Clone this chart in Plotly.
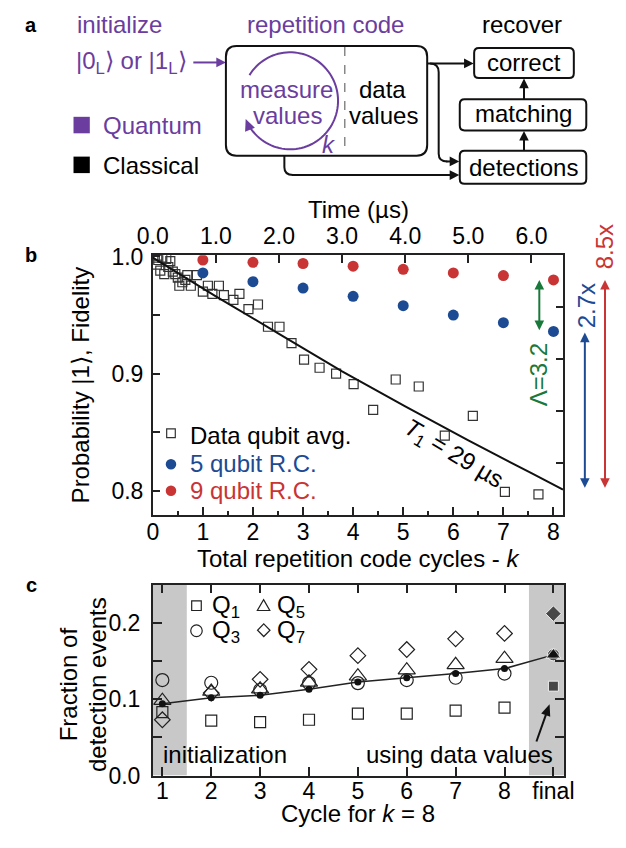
import numpy as np
import plotly.graph_objects as go

W, H = 626, 848
FONT = "Liberation Sans, Arial, Helvetica, sans-serif"
PURPLE = "#6a3d9e"
BLUE = "#1c4b94"
RED = "#c93434"
GREEN = "#19793a"
INK = "#111111"

# ---------------- Panel b data ----------------
dq_k = [0.04, 0.08, 0.11, 0.15, 0.19, 0.23, 0.27, 0.31, 0.35, 0.40, 0.45, 0.50, 0.53,
        0.59, 0.65, 0.69, 0.76, 0.88, 1.00, 1.10, 1.19, 1.32, 1.42, 1.61, 1.73, 1.91,
        2.10, 2.30, 2.53, 2.77, 3.02, 3.33, 3.66, 4.01, 4.40, 4.85, 5.31, 5.83, 6.39,
        7.03, 7.70]
dq_v = [0.999, 0.993, 0.997, 0.988, 0.999, 0.985, 0.998, 0.991, 0.996, 0.987, 0.985,
        0.982, 0.975, 0.978, 0.980, 0.984, 0.975, 0.984, 0.970, 0.975, 0.968, 0.975,
        0.967, 0.963, 0.968, 0.955, 0.959, 0.940, 0.940, 0.926, 0.912, 0.905, 0.900,
        0.891, 0.869, 0.895, 0.889, 0.847, 0.864, 0.799, 0.797]
rc_k = [1, 2, 3, 4, 5, 6, 7, 8]
rc5_v = [0.986, 0.9785, 0.973, 0.966, 0.958, 0.950, 0.9435, 0.936]
rc9_v = [0.997, 0.995, 0.994, 0.9917, 0.989, 0.986, 0.9837, 0.980]
t1_t = [0.0, 1.0, 2.0, 3.0, 4.0, 5.0, 6.0, 6.5]
t1_v = [0.999, 0.966, 0.934, 0.902, 0.872, 0.843, 0.815, 0.801]
k_ticks = [0, 1, 2, 3, 4, 5, 6, 7, 8]
t_ticks = [0, 1, 2, 3, 4, 5, 6]
t_labels = ["0.0", "1.0", "2.0", "3.0", "4.0", "5.0", "6.0"]
p_ticks = [0.8, 0.9, 1.0]
p_labels = ["0.8", "0.9", "1.0"]

# ---------------- Panel c data ----------------
cyc = [1, 2, 3, 4, 5, 6, 7, 8]
cyc_ticks = [1, 2, 3, 4, 5, 6, 7, 8, 9]
cyc_labels = ["1", "2", "3", "4", "5", "6", "7", "8", "final"]
q1 = [0.083, 0.072, 0.070, 0.073, 0.081, 0.081, 0.085, 0.089]
q3 = [0.125, 0.1215, 0.112, 0.121, 0.121, 0.125, 0.128, 0.1335]
q5 = [0.098, 0.110, 0.113, 0.122, 0.130, 0.138, 0.145, 0.153]
q7 = [0.073, 0.108, 0.126, 0.139, 0.157, 0.165, 0.179, 0.186]
avg_x = [1, 2, 3, 4, 5, 6, 7, 8, 9]
avg_v = [0.094, 0.1017, 0.105, 0.113, 0.1225, 0.128, 0.1335, 0.140, 0.158]
final_x = 9
final_q1, final_q3, final_q5, final_q7 = 0.117, 0.158, 0.158, 0.212
f_ticks = [0, 0.1, 0.2]
f_labels = ["0.0", "0.1", "0.2"]

# ---------------- geometry (pixels) ----------------
B_L, B_R, B_T, B_B = 142.7, 570.7, 250.7, 518.3
B_YR = [0.7793, 1.001]
C_L, C_R, C_T, C_B = 142.7, 571.7, 590.0, 786.7


def X(x):
    return x / W


def Y(y):
    return 1 - y / H


def yb(v):  # panel-b value -> pixel row
    return B_B - (v - B_YR[0]) / (B_YR[1] - B_YR[0]) * (B_B - B_T)


fig = go.Figure()

# ---- panel b traces ----
fig.add_trace(go.Scatter(x=dq_k, y=dq_v, mode="markers", name="Data qubit avg.",
                         marker=dict(symbol="square-open", size=9, color="#333",
                                     line=dict(width=1.2)), xaxis="x", yaxis="y"))
fig.add_trace(go.Scatter(x=rc_k, y=rc5_v, mode="markers", name="5 qubit R.C.",
                         marker=dict(symbol="circle", size=11, color=BLUE),
                         xaxis="x", yaxis="y"))
fig.add_trace(go.Scatter(x=rc_k, y=rc9_v, mode="markers", name="9 qubit R.C.",
                         marker=dict(symbol="circle", size=11, color=RED),
                         xaxis="x", yaxis="y"))
fig.add_trace(go.Scatter(x=t1_t, y=t1_v, mode="lines", name="T1 fit",
                         line=dict(color=INK, width=2), xaxis="x2", yaxis="y"))
fig.add_trace(go.Scatter(x=[], y=[], mode="markers", name="", xaxis="x", yaxis="y2",
                         hoverinfo="skip"))

# ---- panel c traces ----
fig.add_trace(go.Scatter(x=cyc, y=q1, mode="markers", name="Q1",
                         marker=dict(symbol="square-open", size=11, color="#222",
                                     line=dict(width=1.2)), xaxis="x3", yaxis="y3"))
fig.add_trace(go.Scatter(x=cyc, y=q3, mode="markers", name="Q3",
                         marker=dict(symbol="circle-open", size=13, color="#222",
                                     line=dict(width=1.2)), xaxis="x3", yaxis="y3"))
fig.add_trace(go.Scatter(x=cyc, y=q5, mode="markers", name="Q5",
                         marker=dict(symbol="triangle-up-open", size=15, color="#222",
                                     line=dict(width=1.2)), xaxis="x3", yaxis="y3"))
fig.add_trace(go.Scatter(x=cyc, y=q7, mode="markers", name="Q7",
                         marker=dict(symbol="diamond-open", size=12, color="#222",
                                     line=dict(width=1.2)), xaxis="x3", yaxis="y3"))
fig.add_trace(go.Scatter(x=avg_x, y=avg_v, mode="lines+markers", name="avg",
                         line=dict(color="#222", width=1.5),
                         marker=dict(symbol="circle", size=7, color=INK),
                         xaxis="x3", yaxis="y3"))
fig.add_trace(go.Scatter(x=[final_x] * 4, y=[final_q1, final_q3, final_q5, final_q7],
                         mode="markers", name="final",
                         marker=dict(symbol=["square", "circle", "triangle-up", "diamond"],
                                     size=[10, 12, 13, 12], color=INK),
                         xaxis="x3", yaxis="y3"))

# ---------------- axes ----------------
axc = dict(showgrid=False, zeroline=False, showline=True, linecolor="#222",
           linewidth=1.5, ticks="inside", tickcolor="#222", tickwidth=1.5,
           tickfont=dict(size=23, family=FONT, color="black"))

fig.update_layout(
    xaxis=dict(domain=[B_L / W, B_R / W], anchor="y", range=[0, 8.19],
               tickvals=k_ticks, ticklen=8, ticklabelstandoff=-4,
               minor=dict(dtick=0.5, tick0=0, ticklen=4, ticks="inside", tickcolor="#222"),
               mirror=False, **axc),
    xaxis2=dict(overlaying="x", side="top", anchor="y", range=[0, 6.50],
                tickvals=t_ticks, ticktext=t_labels, ticklen=8, ticklabelstandoff=0, **axc),
    yaxis=dict(domain=[1 - B_B / H, 1 - B_T / H], anchor="x", range=B_YR,
               tickvals=p_ticks, ticktext=p_labels, ticklen=7, ticklabelstandoff=3,
               minor=dict(tickvals=[0.85, 0.95], ticklen=7, ticks="inside", tickcolor="#222"),
               mirror=True, **axc),
    yaxis2=dict(overlaying="y", side="right", anchor="x", range=[0, 5],
                tickvals=[1, 2, 3, 4], ticklen=7, showticklabels=False,
                **{k: v for k, v in axc.items() if k != "tickfont"}),
    xaxis3=dict(domain=[C_L / W, C_R / W], anchor="y3", range=[0.804, 9.216],
                tickvals=cyc_ticks, ticktext=cyc_labels, ticklen=9, ticklabelstandoff=-6,
                mirror="ticks", **axc),
    yaxis3=dict(domain=[1 - C_B / H, 1 - C_T / H], anchor="x3", range=[0, 0.25],
                tickvals=f_ticks, ticktext=f_labels, ticklen=9, ticklabelstandoff=6,
                minor=dict(tickvals=[0.05, 0.15], ticklen=9, ticks="inside", tickcolor="#222"),
                mirror="ticks", **axc),
)

shapes = []
annotations = []


def txt(text, x, y, size=24, color="black", xanchor="center", angle=0):
    annotations.append(dict(xref="paper", yref="paper", x=X(x), y=Y(y), text=text,
                            showarrow=False, font=dict(size=size, color=color, family=FONT),
                            xanchor=xanchor, yanchor="middle", textangle=angle))


def path(pts, color=INK, width=2, closed=False, fill=None):
    p = "M " + " L ".join(f"{X(a):.5f},{Y(b):.5f}" for a, b in pts)
    if closed:
        p += " Z"
    d = dict(type="path", xref="paper", yref="paper", path=p,
             line=dict(color=color, width=width if not fill else 0))
    if fill:
        d["fillcolor"] = fill
    shapes.append(d)


def head(hx, hy, dx, dy, color, L=10, Wd=10):
    n = np.hypot(dx, dy)
    ux, uy = dx / n, dy / n
    bx, by = hx - ux * L, hy - uy * L
    px_, py_ = -uy, ux
    path([(hx, hy), (bx + px_ * Wd / 2, by + py_ * Wd / 2),
          (bx - px_ * Wd / 2, by - py_ * Wd / 2)], closed=True, fill=color)


def arrow(tx, ty, hx, hy, color=INK, width=2, both=False, L=10, Wd=10):
    dx, dy = hx - tx, hy - ty
    n = np.hypot(dx, dy)
    ux, uy = dx / n, dy / n
    s0 = (tx + ux * L * 0.8, ty + uy * L * 0.8) if both else (tx, ty)
    path([s0, (hx - ux * L * 0.8, hy - uy * L * 0.8)], color=color, width=width)
    head(hx, hy, dx, dy, color, L, Wd)
    if both:
        head(tx, ty, -dx, -dy, color, L, Wd)


def rrect(x0, y0, x1, y1, r):
    p = (f"M {X(x0 + r)},{Y(y0)} L {X(x1 - r)},{Y(y0)} Q {X(x1)},{Y(y0)} {X(x1)},{Y(y0 + r)} "
         f"L {X(x1)},{Y(y1 - r)} Q {X(x1)},{Y(y1)} {X(x1 - r)},{Y(y1)} "
         f"L {X(x0 + r)},{Y(y1)} Q {X(x0)},{Y(y1)} {X(x0)},{Y(y1 - r)} "
         f"L {X(x0)},{Y(y0 + r)} Q {X(x0)},{Y(y0)} {X(x0 + r)},{Y(y0)} Z")
    shapes.append(dict(type="path", xref="paper", yref="paper", path=p,
                       line=dict(color=INK, width=2), fillcolor="rgba(0,0,0,0)"))


# ---------------- panel a diagram ----------------
txt("<b>a</b>", 16, 13, size=20)
txt("initialize", 62, 13, color=PURPLE, xanchor="left")
txt("|0<sub>L</sub>⟩ or |1<sub>L</sub>⟩", 60, 52, color=PURPLE, xanchor="left")
arrow(185, 52, 219, 52, color=PURPLE)
shapes.append(dict(type="rect", xref="paper", yref="paper", x0=X(60), x1=X(77),
                   y0=Y(125), y1=Y(108), fillcolor=PURPLE, line=dict(width=0)))
shapes.append(dict(type="rect", xref="paper", yref="paper", x0=X(60), x1=X(77),
                   y0=Y(166), y1=Y(149), fillcolor="black", line=dict(width=0)))
txt("Quantum", 89, 117, color=PURPLE, xanchor="left")
txt("Classical", 89, 158, xanchor="left")

txt("repetition code", 323, 13, color=PURPLE)
rrect(219, 35, 429, 148, 11)
shapes.append(dict(type="line", xref="paper", yref="paper", x0=X(343), x1=X(343),
                   y0=Y(36), y1=Y(147), line=dict(color="#888", width=1.5, dash="dash")))
cx, cy, r = 286, 91.5, 50
th = np.radians(np.linspace(148, -150, 90))
path(list(zip(cx + r * np.cos(th), cy - r * np.sin(th))), color=PURPLE, width=2)
te = np.radians(-158)
ex, ey = cx + r * np.cos(te), cy - r * np.sin(te)
head(ex, ey, np.sin(te), np.cos(te), PURPLE, L=12, Wd=11)
txt("measure", 282, 80, color=PURPLE)
txt("values", 283, 107, color=PURPLE)
txt("<i>k</i>", 327, 137, color=PURPLE)
txt("data", 382, 80)
txt("values", 383, 107)

txt("recover", 528, 13)
rrect(478, 37, 582, 68, 5)
rrect(463, 90, 595, 122, 5)
rrect(463, 143, 595, 177, 5)
txt("correct", 530, 52)
txt("matching", 529, 105)
txt("detections", 529, 160)
arrow(530, 90, 530, 68.5)
arrow(530, 143, 530, 122.5)
arrow(429, 53, 477.5, 53)
shapes.append(dict(type="path", xref="paper", yref="paper",
                   path=(f"M {X(432)},{Y(53)} Q {X(441)},{Y(53)} {X(441)},{Y(62)} "
                         f"L {X(441)},{Y(146)} Q {X(441)},{Y(154)} {X(450)},{Y(154)}"),
                   line=dict(color=INK, width=2)))
arrow(449, 154, 462.5, 154)
shapes.append(dict(type="path", xref="paper", yref="paper",
                   path=(f"M {X(280)},{Y(148)} L {X(280)},{Y(160)} "
                         f"Q {X(280)},{Y(168)} {X(289)},{Y(168)}"),
                   line=dict(color=INK, width=2)))
arrow(288, 168, 462.5, 168)

# ---------------- panel b annotations ----------------
txt("<b>b</b>", 16, 250, size=20)
txt("Time (µs)", 357, 204)
txt("Total repetition code cycles - <i>k</i>", 357, 563)
txt("Probability |1⟩, Fidelity", 67, 384.5, angle=-90)
txt("<i>T</i><sub>1</sub> = 29 µs", 456, 456, angle=31)
txt("Λ=3.2", 546, 374, color=GREEN, angle=-90)
txt("2.7x", 595, 303, color=BLUE, angle=-90)
txt("8.5x", 614, 242, color=RED, angle=-90)
arrow(546, yb(0.980), 546, yb(0.937), color=GREEN, both=True)
arrow(593.5, yb(0.935), 593.5, yb(0.8025), color=BLUE, both=True)
arrow(614.5, yb(0.980), 614.5, yb(0.8025), color=RED, both=True)

# manual legend, panel b
shapes.append(dict(type="rect", xref="paper", yref="paper", x0=X(157.2), x1=X(166.2),
                   y0=Y(438.5), y1=Y(429.5), line=dict(color="#333", width=1.2)))
shapes.append(dict(type="circle", xref="paper", yref="paper", x0=X(156.2), x1=X(167.2),
                   y0=Y(471.5), y1=Y(460.5), fillcolor=BLUE, line=dict(width=0)))
shapes.append(dict(type="circle", xref="paper", yref="paper", x0=X(156.2), x1=X(167.2),
                   y0=Y(498.8), y1=Y(487.8), fillcolor=RED, line=dict(width=0)))
txt("Data qubit avg.", 179, 436, xanchor="left")
txt("5 qubit R.C.", 179, 465, color=BLUE, xanchor="left")
txt("9 qubit R.C.", 179, 493, color=RED, xanchor="left")

# ---------------- panel c annotations ----------------
txt("<b>c</b>", 16, 590, size=20)
txt("Fraction of", 55, 693, angle=-90)
txt("detection events", 85, 693, angle=-90)
txt("Cycle for <i>k</i> = 8", 357, 826)
txt("initialization", 151, 765, xanchor="left")
txt("using data values", 562, 765, xanchor="right")
arrow(543, 751.7, 556.7, 713.3, L=12, Wd=10)
for xa, xb in [(0.804, 1.5), (8.5, 9.216)]:
    shapes.append(dict(type="rect", xref="x3", yref="y3", x0=xa, x1=xb, y0=0, y1=0.25,
                       fillcolor="#c8c8c8", line=dict(width=0), layer="below"))

# legend keys for panel c
shapes.append(dict(type="rect", xref="paper", yref="paper", x0=X(183.3), x1=X(193.3),
                   y0=Y(616.7), y1=Y(606.7), line=dict(color="#222", width=1.2)))
shapes.append(dict(type="circle", xref="paper", yref="paper", x0=X(182.3), x1=X(194.3),
                   y0=Y(643.5), y1=Y(631.5), line=dict(color="#222", width=1.2)))
path([(258.3, 605.5), (264.8, 616.7), (251.8, 616.7)], color="#222", width=1.2, closed=True)
path([(258.5, 630.5), (265, 637), (258.5, 643.5), (252, 637)], color="#222", width=1.2,
     closed=True)
txt("Q<sub>1</sub>", 202, 613, xanchor="left")
txt("Q<sub>3</sub>", 202, 638, xanchor="left")
txt("Q<sub>5</sub>", 270, 613, xanchor="left")
txt("Q<sub>7</sub>", 270, 638, xanchor="left")

fig.update_layout(
    width=W, height=H, margin=dict(l=0, r=0, t=0, b=0), autosize=False,
    paper_bgcolor="white", plot_bgcolor="rgba(0,0,0,0)",
    font=dict(family=FONT, size=23, color="black"),
    showlegend=False,
    shapes=shapes, annotations=annotations,
)

fig.write_html("out.html")
